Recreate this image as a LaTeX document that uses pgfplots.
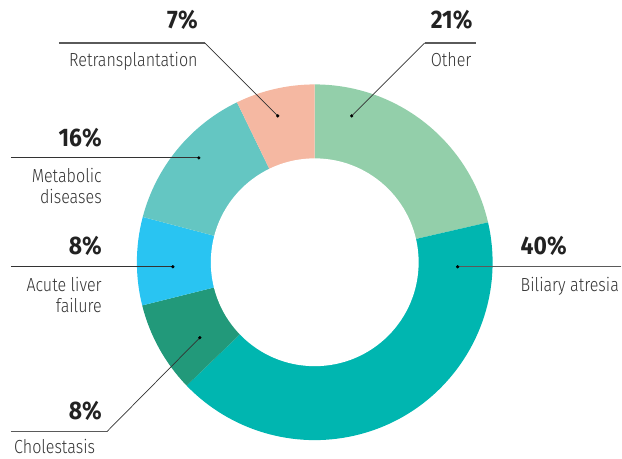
\documentclass[border=0pt]{standalone}
\usepackage{fontspec}
\setmainfont{Fira Sans}[FakeStretch=0.84]
\newfontfamily\labfont{Fira Sans Light}[FakeStretch=0.85]
\newfontfamily\pctfont{Fira Sans}[FakeStretch=0.9]
\usepackage{pgfplots}
\usepackage{pgfplotstable}
\pgfplotsset{compat=1.18}
\definecolor{cOther}{HTML}{93CFAA}
\definecolor{cBiliary}{HTML}{00B6B0}
\definecolor{cChol}{HTML}{22997A}
\definecolor{cAcute}{HTML}{29C4F2}
\definecolor{cMeta}{HTML}{64C6C2}
\definecolor{cRetr}{HTML}{F5B8A2}
\definecolor{labtxt}{HTML}{333333}
\definecolor{pcttxt}{HTML}{222222}
\definecolor{leadh}{HTML}{5A5A5A}
\definecolor{leadd}{HTML}{333333}

% share of each segment, clockwise from 12 o'clock (as drawn)
\pgfplotstableread{
value color
21.4 cOther
41.4 cBiliary
8.3  cChol
8.0  cAcute
13.7 cMeta
7.2  cRetr
}\piedata

\newcommand{\lab}{\labfont\fontsize{19}{21}\selectfont\color{labtxt}}
\newcommand{\pct}{\pctfont\bfseries\fontsize{25.5}{28}\selectfont\color{pcttxt}}

\begin{document}
\begin{tikzpicture}
\begin{axis}[
  width=622bp, height=459bp, scale only axis,
  xmin=0, xmax=622, ymin=0, ymax=459,
  hide axis, clip=false,
]
\addplot[draw=none] coordinates {(0,0) (622,459)};
% donut wedges
\def\angA{90}
\pgfplotsforeachungrouped \i in {0,...,5}{%
  \pgfplotstablegetelem{\i}{value}\of\piedata \let\v\pgfplotsretval
  \pgfplotstablegetelem{\i}{color}\of\piedata \let\c\pgfplotsretval
  \pgfmathsetmacro\angB{\angA-3.6*\v}%
  \edef\wedgecmd{\noexpand\fill[\c] (axis cs:315,196.5) -- ++(\angA:178bp) arc[start angle=\angA, end angle=\angB, radius=178bp] -- cycle;}%
  \wedgecmd
  \global\let\angA\angB
}
\fill[white] (axis cs:315,196.5) circle[radius=104bp];

% leader lines
\addplot[leadh, line width=1.1bp, no marks] coordinates {(59,416) (205,416)};
\addplot[leadd, line width=0.7bp, no marks] coordinates {(205,416) (278,343)};
\addplot[leadh, line width=1.1bp, no marks] coordinates {(476,416) (425,416)};
\addplot[leadd, line width=0.7bp, no marks] coordinates {(425,416) (352,343)};
\addplot[leadd, line width=1bp, no marks] coordinates {(11,301) (199,301)};
\addplot[leadd, line width=1bp, no marks] coordinates {(11,192) (173,192)};
\addplot[leadh, line width=1.1bp, no marks] coordinates {(622,192) (458,192)};
\addplot[leadh, line width=1.1bp, no marks] coordinates {(11,27) (107,27)};
\addplot[leadd, line width=0.7bp, no marks] coordinates {(107,27) (200,121)};
% dots
\addplot[only marks, mark=*, mark size=1.4bp, black] coordinates {
(278,343) (352,343) (199,301) (173,192) (458,192) (200,121)};

% labels
\node[anchor=base east, inner sep=0] at (axis cs:198,430) {\pct 7\%};
\node[anchor=base east, inner sep=0] at (axis cs:198,392) {\lab Retransplantation};
\node[anchor=base west, inner sep=0] at (axis cs:431,430) {\pct 21\%};
\node[anchor=base west, inner sep=0] at (axis cs:431,392) {\lab Other};
\node[anchor=base east, inner sep=0] at (axis cs:102,312) {\pct 16\%};
\node[anchor=base east, inner sep=0] at (axis cs:102,276) {\lab Metabolic};
\node[anchor=base east, inner sep=0] at (axis cs:102,255) {\lab diseases};
\node[anchor=base east, inner sep=0] at (axis cs:102,204) {\pct 8\%};
\node[anchor=base east, inner sep=0] at (axis cs:102,167) {\lab Acute liver};
\node[anchor=base east, inner sep=0] at (axis cs:102,146) {\lab failure};
\node[anchor=base west, inner sep=0] at (axis cs:521,204) {\pct 40\%};
\node[anchor=base west, inner sep=0] at (axis cs:521,167) {\lab Biliary atresia};
\node[anchor=base east, inner sep=0] at (axis cs:102,39) {\pct 8\%};
\node[anchor=base west, inner sep=0] at (axis cs:14,5) {\lab Cholestasis};
\end{axis}
\end{tikzpicture}
\end{document}
